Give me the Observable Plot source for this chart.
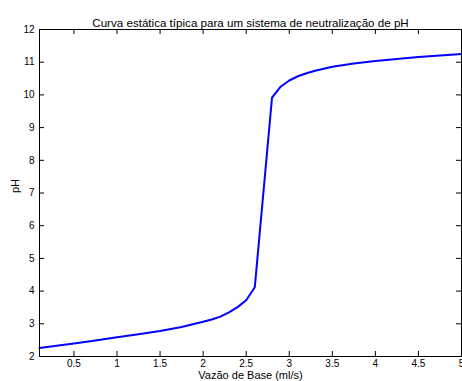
<!DOCTYPE html>
<html>
<head>
<meta charset="utf-8">
<script src="https://cdn.jsdelivr.net/npm/d3@7"></script>
<script src="https://cdn.jsdelivr.net/npm/@observablehq/plot@0.6"></script>
<style>
  html, body { margin: 0; padding: 0; background: #fff; }
  #chart svg { display: block; }
</style>
</head>
<body>
<div id="chart"></div>
<script>
const titleText = "Curva estática típica para um sistema de neutralização de pH";
const xLabel = "Vazão de Base (ml/s)";
const yLabel = "pH";

const flow = [0.1, 0.5, 0.75, 1.0, 1.25, 1.5, 1.75, 2.0, 2.1, 2.2, 2.3, 2.4, 2.5, 2.6, 2.8, 2.9, 3.0, 3.1, 3.2, 3.3, 3.5, 3.75, 4.0, 4.25, 4.5, 5.0];
const ph   = [2.26, 2.40, 2.49, 2.59, 2.68, 2.78, 2.90, 3.06, 3.13, 3.22, 3.35, 3.51, 3.72, 4.12, 9.92, 10.25, 10.44, 10.57, 10.66, 10.74, 10.86, 10.96, 11.04, 11.10, 11.16, 11.25];

const xTicks = [0.5, 1, 1.5, 2, 2.5, 3, 3.5, 4, 4.5, 5];
const yTicks = [2, 3, 4, 5, 6, 7, 8, 9, 10, 11, 12];

const data = flow.map((x, i) => ({x, y: ph[i]}));

const W = 462, H = 381;
const mL = 39, mR = 1, mT = 29, mB = 25;
const fw = W - mL - mR, fh = H - mT - mB;
const tick = 5;
const font = "Liberation Sans, Arial, Helvetica, sans-serif";

const chart = Plot.plot({
  width: W,
  height: H,
  marginLeft: mL,
  marginRight: mR,
  marginTop: mT,
  marginBottom: mB,
  style: {fontFamily: font, fontSize: "10px", color: "#000", background: "#fff"},
  x: {domain: [0.1, 5], ticks: xTicks},
  y: {domain: [2, 12], ticks: yTicks},
  marks: [
    Plot.axisX(xTicks, {anchor: "bottom", tickSize: 0, tickPadding: 3, tickFormat: d => String(d), label: null, fontSize: 10}),
    Plot.axisY(yTicks, {anchor: "left", tickSize: 0, tickPadding: 5, tickFormat: d => String(d), label: null, fontSize: 10}),
    Plot.ruleX(xTicks, {x: d => d, insetTop: fh - tick, stroke: "#000"}),
    Plot.ruleX(xTicks, {x: d => d, insetBottom: fh - tick, stroke: "#000"}),
    Plot.ruleY(yTicks, {y: d => d, insetRight: fw - tick, stroke: "#000"}),
    Plot.ruleY(yTicks, {y: d => d, insetLeft: fw - tick, stroke: "#000"}),
    Plot.line(data, {x: "x", y: "y", stroke: "#0000ff", strokeWidth: 2}),
    Plot.frame({stroke: "#000", strokeWidth: 1}),
    Plot.text([titleText], {frameAnchor: "top", dy: -11, text: d => d, fontSize: 11.6, fill: "#000"}),
    Plot.text([xLabel], {frameAnchor: "bottom", dy: 22, text: d => d, fontSize: 11, fill: "#000"}),
    Plot.text([yLabel], {frameAnchor: "left", dx: -24, rotate: -90, text: d => d, fontSize: 11, fill: "#000"})
  ]
});
document.getElementById("chart").appendChild(chart);
</script>
</body>
</html>
